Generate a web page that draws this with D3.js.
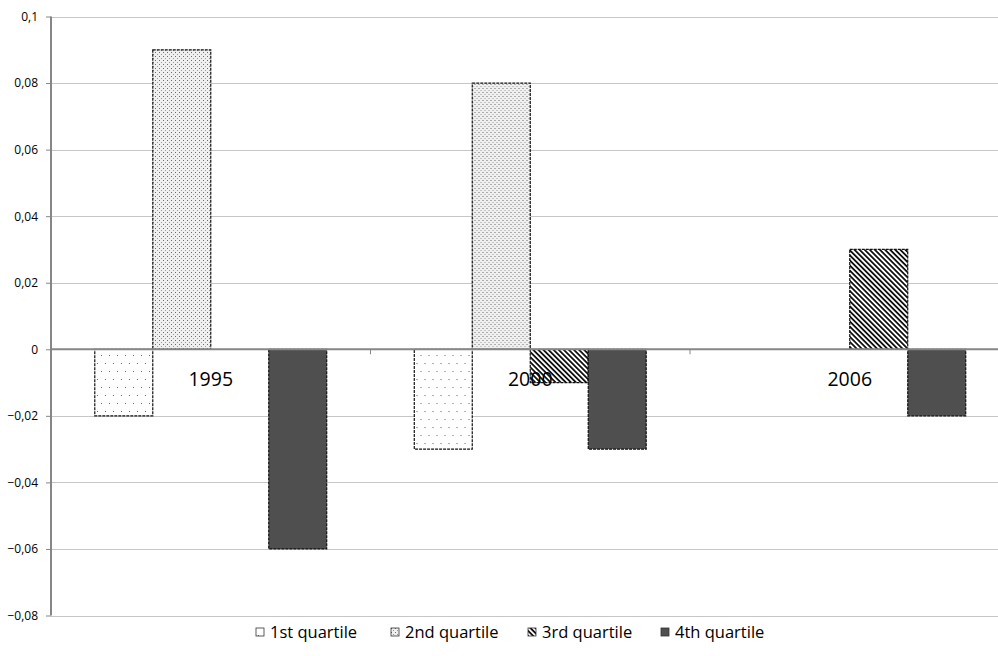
<!DOCTYPE html>
<html>
<head>
<meta charset="utf-8">
<script src="https://cdn.jsdelivr.net/npm/d3@7"></script>
<style>
  html, body { margin: 0; padding: 0; background: #fff; }
  svg { display: block; }
  text { font-family: "Open Sans", "DejaVu Sans", sans-serif; fill: #000; }
</style>
</head>
<body>
<svg id="chart" width="998" height="656"></svg>
<script>
// Chart data
const years = ["1995", "2000", "2006"];
const quartiles = ["1st quartile", "2nd quartile", "3rd quartile", "4th quartile"];
const q1 = [-0.02, -0.03, 0];
const q2 = [0.09, 0.08, 0];
const q3 = [0, -0.01, 0.03];
const q4 = [-0.06, -0.03, -0.02];
const yTicks = [0.1, 0.08, 0.06, 0.04, 0.02, 0, -0.02, -0.04, -0.06, -0.08];

const seriesValues = [q1, q2, q3, q4];

const svg = d3.select("#chart");
const plot = { left: 51, right: 1009.5, top: 16.5, bottom: 615.5 };

// Fill patterns for the four series
const defs = svg.append("defs");

// 1st quartile: sparse staggered dots
const p1 = defs.append("pattern").attr("id", "pat-q1")
  .attr("patternUnits", "userSpaceOnUse").attr("width", 16).attr("height", 16);
p1.append("rect").attr("width", 16).attr("height", 16).attr("fill", "#fff");
[[2, 3], [10, 3], [6, 11], [14, 11]].forEach(([x, y]) =>
  p1.append("rect").attr("x", x).attr("y", y).attr("width", 1).attr("height", 1).attr("fill", "#666"));

// 2nd quartile: dense dots
const p2 = defs.append("pattern").attr("id", "pat-q2")
  .attr("patternUnits", "userSpaceOnUse").attr("width", 4).attr("height", 4);
p2.append("rect").attr("width", 4).attr("height", 4).attr("fill", "#f0f0f0");
p2.append("rect").attr("x", 0).attr("y", 0).attr("width", 1).attr("height", 1).attr("fill", "#6a6a6a");
p2.append("rect").attr("x", 2).attr("y", 2).attr("width", 1).attr("height", 1).attr("fill", "#999");

// 3rd quartile: fine diagonal stripes
const p3 = defs.append("pattern").attr("id", "pat-q3")
  .attr("patternUnits", "userSpaceOnUse").attr("width", 3.6).attr("height", 3.6)
  .attr("patternTransform", "rotate(-45)");
p3.append("rect").attr("width", 3.6).attr("height", 3.6).attr("fill", "#fff");
p3.append("rect").attr("x", 0).attr("y", 0).attr("width", 1.8).attr("height", 3.6).attr("fill", "#111");

const fills = ["url(#pat-q1)", "url(#pat-q2)", "url(#pat-q3)", "#4f4f4f"];

// Scales
const y = d3.scaleLinear().domain([-0.08, 0.1]).range([plot.bottom, plot.top]);
const x0 = d3.scaleBand().domain(years).range([plot.left, plot.right]).padding(0);
const x1 = d3.scaleBand().domain(quartiles).range([0, x0.bandwidth()])
  .paddingInner(0).paddingOuter(0.755);

// Gridlines
svg.append("g").selectAll("line").data(yTicks.filter(t => t !== 0)).join("line")
  .attr("x1", plot.left).attr("x2", plot.right)
  .attr("y1", d => Math.round(y(d)) + 0.5).attr("y2", d => Math.round(y(d)) + 0.5)
  .attr("stroke", "#c6c6c6").attr("stroke-width", 1);

// Y axis
const yAxis = d3.axisLeft(y).tickValues(yTicks).tickSize(5).tickPadding(8)
  .tickFormat(d => d === 0 ? "0" : d3.format(".2~f")(d).replace(".", ","));
const gy = svg.append("g").attr("transform", `translate(${plot.left},0)`).call(yAxis);
gy.select(".domain").attr("stroke", "#868686").attr("stroke-width", 2).attr("d", `M0,${plot.top}V${plot.bottom}`);
gy.selectAll(".tick line").attr("stroke", "#868686");
gy.selectAll(".tick text").style("font-size", "12px").style("font-family", "'Open Sans', sans-serif").attr("fill", "#000");

// Bars
const groups = svg.append("g").selectAll("g").data(years).join("g")
  .attr("transform", d => `translate(${x0(d)},0)`);
groups.selectAll("rect")
  .data((yr, i) => quartiles.map((q, k) => ({ q, k, v: seriesValues[k][i] })).filter(d => d.v !== 0))
  .join("rect")
  .attr("x", d => x1(d.q))
  .attr("width", x1.bandwidth())
  .attr("y", d => y(Math.max(0, d.v)))
  .attr("height", d => Math.abs(y(d.v) - y(0)))
  .attr("fill", d => fills[d.k])
  .attr("stroke", "#111").attr("stroke-width", 1.2).attr("stroke-dasharray", "3,1");

// Zero line with category ticks
svg.append("line").attr("x1", plot.left).attr("x2", plot.right)
  .attr("y1", y(0)).attr("y2", y(0))
  .attr("stroke", "#868686").attr("stroke-width", 2);
svg.append("g").selectAll("line").data(years.slice(1)).join("line")
  .attr("x1", d => x0(d)).attr("x2", d => x0(d))
  .attr("y1", y(0)).attr("y2", y(0) + 5)
  .attr("stroke", "#868686");

// Category labels, drawn just under the zero line
svg.append("g").selectAll("text").data(years).join("text")
  .attr("x", d => x0(d) + x0.bandwidth() / 2)
  .attr("y", y(0) + 37)
  .attr("text-anchor", "middle")
  .style("font-size", "19.5px")
  .text(d => d);

// Legend
const legendX = [256, 391, 528, 661];
const legend = svg.append("g").selectAll("g").data(quartiles).join("g")
  .attr("transform", (d, i) => `translate(${legendX[i]},632)`);
legend.append("rect").attr("x", 0).attr("y", -4).attr("width", 8).attr("height", 8)
  .attr("fill", (d, i) => fills[i]).attr("stroke", "#333").attr("stroke-width", 0.8);
legend.append("text").attr("x", 14).attr("y", 5.5)
  .style("font-size", "16.5px").text(d => d);
</script>
</body>
</html>
